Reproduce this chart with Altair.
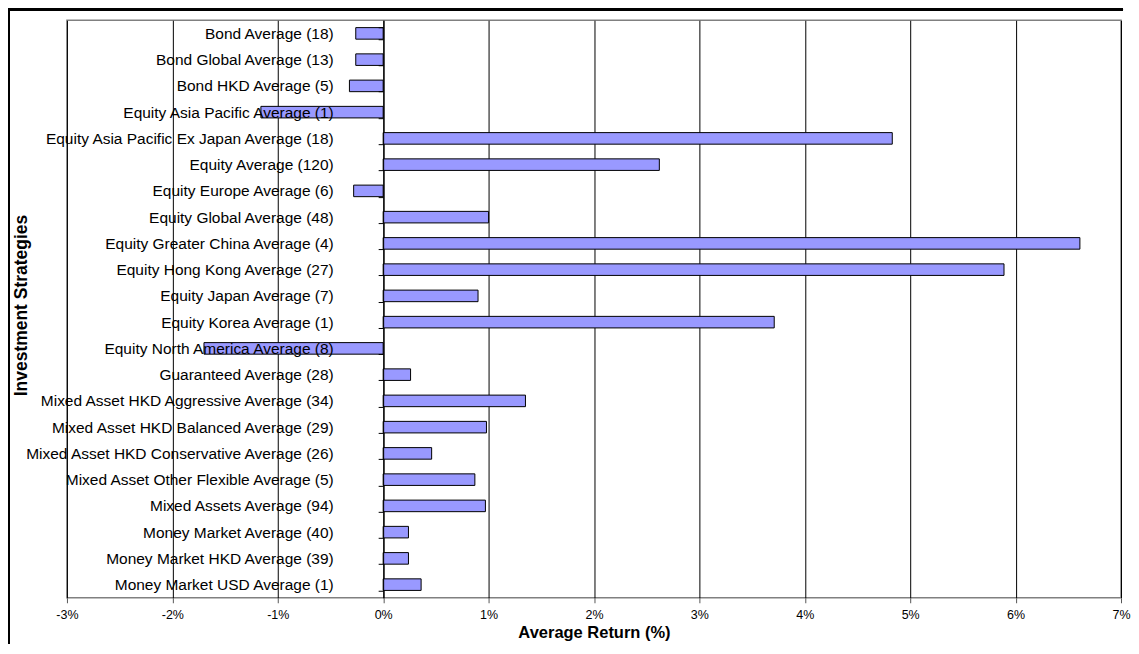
import altair as alt
import pandas as pd

categories = [
    "Bond Average (18)",
    "Bond Global Average (13)",
    "Bond HKD Average (5)",
    "Equity Asia Pacific Average (1)",
    "Equity Asia Pacific Ex Japan Average (18)",
    "Equity Average (120)",
    "Equity Europe Average (6)",
    "Equity Global Average (48)",
    "Equity Greater China Average (4)",
    "Equity Hong Kong Average (27)",
    "Equity Japan Average (7)",
    "Equity Korea Average (1)",
    "Equity North America Average (8)",
    "Guaranteed Average (28)",
    "Mixed Asset HKD Aggressive Average (34)",
    "Mixed Asset HKD Balanced Average (29)",
    "Mixed Asset HKD Conservative Average (26)",
    "Mixed Asset Other Flexible Average (5)",
    "Mixed Assets Average (94)",
    "Money Market Average (40)",
    "Money Market HKD Average (39)",
    "Money Market USD Average (1)",
]
returns = [
    -0.26, -0.26, -0.32, -1.16, 4.83, 2.62, -0.28, 1.00, 6.61, 5.89, 0.90,
    3.71, -1.70, 0.26, 1.35, 0.98, 0.46, 0.87, 0.97, 0.24, 0.24, 0.36,
]
x_ticks = [-3, -2, -1, 0, 1, 2, 3, 4, 5, 6, 7]

df = pd.DataFrame({"strategy": categories, "ret": returns})

W, H = 1055, 578
PAD_L, PAD_T, PAD_R, PAD_B = 59, 12, 10, 46
zero_px = 316.5

FONT = "Liberation Sans"

bars = alt.Chart(df).mark_bar(
    color="#9999FF", stroke="black", strokeWidth=1
).encode(
    x=alt.X(
        "ret:Q",
        scale=alt.Scale(domain=[-3, 7], nice=False, zero=False),
        axis=alt.Axis(
            values=x_ticks,
            labelExpr="datum.value + '%'",
            labelFlush=False,
            labelOverlap=False,
            grid=True,
            gridColor="black",
            gridWidth=1,
            gridOpacity=1,
            domain=False,
            tickColor="#555555",
            tickSize=5,
            labelFont=FONT,
            labelFontSize=12.5,
            labelColor="black",
            labelPadding=6,
            title="Average Return (%)",
            titleFont=FONT,
            titleFontSize=16.5,
            titleFontWeight="bold",
            titleColor="black",
            titleX=W / 2,
            titleY=35,
            titleAlign="center",
            titleBaseline="middle",
            zindex=0,
        ),
    ),
    y=alt.Y(
        "strategy:N",
        sort=categories,
        scale=alt.Scale(paddingInner=0.56, paddingOuter=0.28),
        axis=alt.Axis(
            offset=-zero_px,
            domainColor="black",
            domainWidth=1,
            tickColor="black",
            tickSize=5,
            tickBand="extent",
            labelFont=FONT,
            labelFontSize=15.5,
            labelColor="black",
            labelPadding=45,
            labelLimit=600,
            title="Investment Strategies",
            titleFont=FONT,
            titleFontSize=17.5,
            titleFontWeight="bold",
            titleColor="black",
            titleX=-(zero_px + 45),
            titleY=285,
            titleAngle=270,
            titleBaseline="middle",
            titleAlign="center",
            zindex=1,
        ),
    ),
)

frame_top = alt.Chart(df).mark_rule(color="black", strokeWidth=2).encode(
    x=alt.value(-PAD_L), x2=alt.value(W + 2), y=alt.value(-PAD_T + 1)
)
frame_left = alt.Chart(df).mark_rule(color="black", strokeWidth=2).encode(
    x=alt.value(-PAD_L + 1), y=alt.value(-PAD_T), y2=alt.value(H + PAD_B)
)

chart = alt.layer(bars, frame_top, frame_left).properties(
    width=W,
    height=H,
    autosize=alt.AutoSizeParams(type="none"),
    padding={"left": PAD_L, "top": PAD_T, "right": PAD_R, "bottom": PAD_B},
).configure_view(
    stroke="#808080", strokeWidth=1.5
)

chart.save("out.html", embed_options={"renderer": "svg", "actions": False})
